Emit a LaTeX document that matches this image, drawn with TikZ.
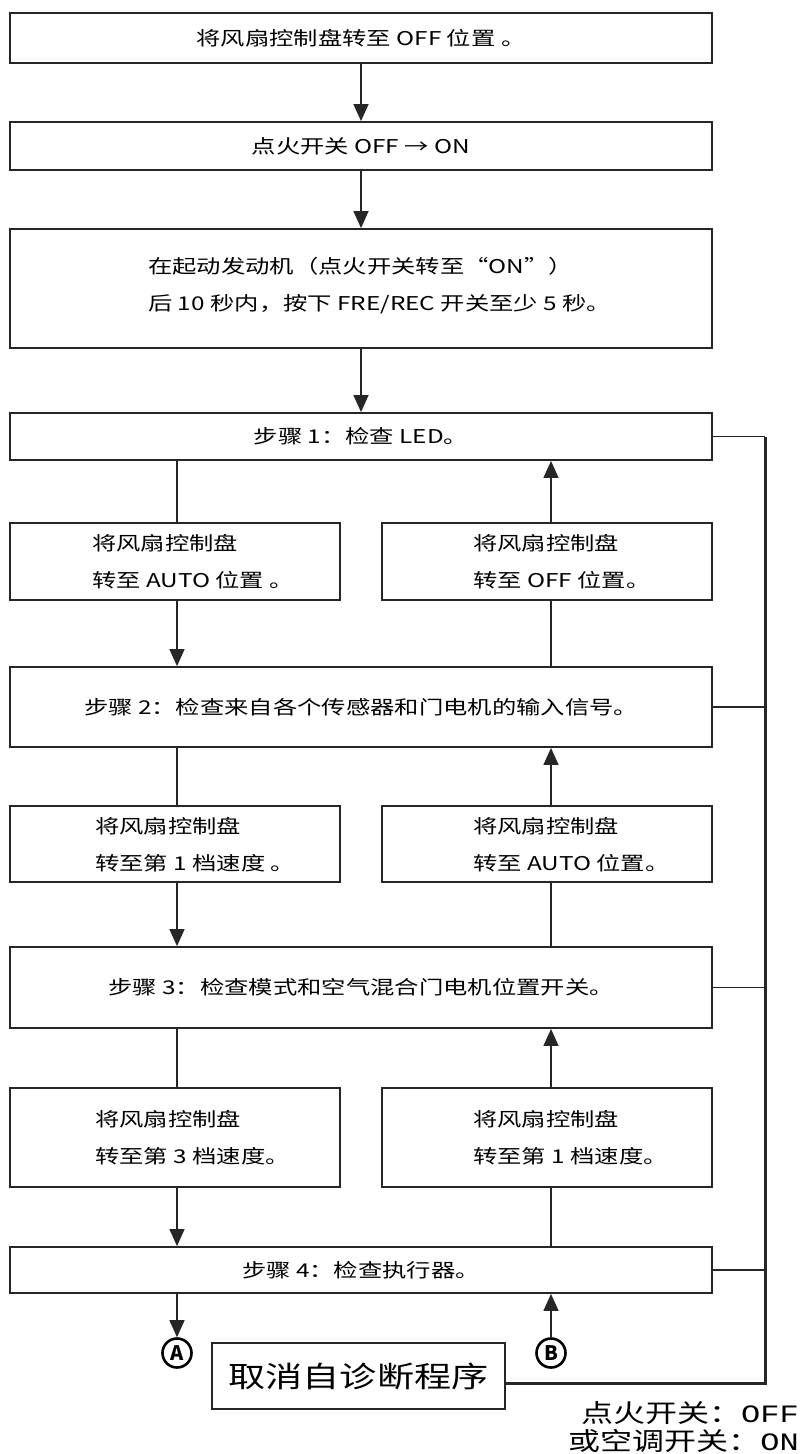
\documentclass[tikz,border=0pt]{standalone}
\usepackage{fontspec}
\usepackage{graphicx}
\setmainfont{Noto Sans CJK SC}
\newfontfamily\monofnt{Liberation Mono}
\usetikzlibrary{arrows.meta}
\newcommand\sx[1]{\scalebox{1.28}[1]{#1}}
\begin{document}
\begin{tikzpicture}[x=1pt,y=-1pt,
  box/.style={draw=black!85, line width=1.8pt, inner sep=0pt, font=\fontsize{19}{19}\selectfont},
  conn/.style={line width=1.4pt, draw=black!85},
  arr/.style={conn, -{Triangle[length=17pt,width=15pt]}},
  txt/.style={inner sep=0pt, font=\fontsize{19}{19}\selectfont, anchor=west},
  circ/.style={circle, draw=black, line width=2.6pt, minimum size=29pt, inner sep=0pt, font=\fontsize{20}{20}\selectfont\bfseries},
  ]
\useasboundingbox (0,0) rectangle (801,1454);
\coordinate (cl) at (177,0);
\coordinate (cr) at (551,0);
\coordinate (rv) at (765,0);

% top chain
\node[box, minimum width=702pt, minimum height=50pt] (b1) at (361,38) {\sx{将风扇控制盘转至 OFF 位置 。}};
\node[box, minimum width=702pt, minimum height=48pt] (b2) at (361,146) {\sx{点火开关 OFF → ON}};
\node[box, minimum width=702pt, minimum height=119pt] (b3) at (361,288.5) {};
\node[txt] (b3a) at (148,266) {\sx{在起动发动机（点火开关转至“ON”）}};
\node[txt] (b3b) at (148,304) {\sx{后 10 秒内，按下 FRE/REC 开关至少 5 秒。}};

% steps
\node[box, minimum width=702pt, minimum height=47pt] (s1) at (361,436.5) {\sx{步骤 1：检查 LED。}};
\node[box, minimum width=702pt, minimum height=80pt] (s2) at (361,707) {\sx{步骤 2：检查来自各个传感器和门电机的输入信号。}};
\node[box, minimum width=702pt, minimum height=81pt] (s3) at (361,987.5) {\sx{步骤 3：检查模式和空气混合门电机位置开关。}};
\node[box, minimum width=702pt, minimum height=46pt] (s4) at (361,1270) {\sx{步骤 4：检查执行器。}};

% side boxes
\node[box, minimum width=330pt, minimum height=77pt] (l1) at (175,561.5) {};
\node[box, minimum width=330pt, minimum height=77pt] (r1) at (547,561.5) {};
\node[box, minimum width=330pt, minimum height=76pt] (l2) at (175,844) {};
\node[box, minimum width=330pt, minimum height=76pt] (r2) at (547,844) {};
\node[box, minimum width=330pt, minimum height=99pt] (l3) at (175,1137.5) {};
\node[box, minimum width=330pt, minimum height=99pt] (r3) at (547,1137.5) {};

\node[txt] (l1a) at (92,543) {\sx{将风扇控制盘}};
\node[txt] (l1b) at (92,580) {\sx{转至 AUTO 位置 。}};
\node[txt] (r1a) at (473,543) {\sx{将风扇控制盘}};
\node[txt] (r1b) at (473,580) {\sx{转至 OFF 位置。}};
\node[txt] (l2a) at (95,826) {\sx{将风扇控制盘}};
\node[txt] (l2b) at (95,863) {\sx{转至第 1 档速度 。}};
\node[txt] (r2a) at (473,826) {\sx{将风扇控制盘}};
\node[txt] (r2b) at (473,863) {\sx{转至 AUTO 位置。}};
\node[txt] (l3a) at (95,1119) {\sx{将风扇控制盘}};
\node[txt] (l3b) at (95,1156) {\sx{转至第 3 档速度。}};
\node[txt] (r3a) at (473,1119) {\sx{将风扇控制盘}};
\node[txt] (r3b) at (473,1156) {\sx{转至第 1 档速度。}};

% circles and cancel
\node[circ] (A) at (177,1353) {A};
\node[circ] (B) at (551,1353) {B};
\node[draw=black!85, line width=2.6pt, minimum width=293pt, minimum height=66pt, inner sep=0pt, font=\fontsize{29}{29}\selectfont] (cx) at (358.5,1376) {\sx{取消自诊断程序}};
\node[inner sep=0pt, anchor=east, font=\fontsize{25}{25}\selectfont] (n1) at (799,1413) {\sx{点火开关：{\monofnt OFF}}};
\node[inner sep=0pt, anchor=east, font=\fontsize{25}{25}\selectfont] (n2) at (799,1441) {\sx{或空调开关：{\monofnt ON}}};

% connectors top
\draw[arr] (b1.south) -- (b2.north);
\draw[arr] (b2.south) -- (b3.north);
\draw[arr] (b3.south) -- (s1.north);

% left column
\draw[conn] (s1.south -| cl) -- (l1.north -| cl);
\draw[arr] (l1.south -| cl) -- (s2.north -| cl);
\draw[conn] (s2.south -| cl) -- (l2.north -| cl);
\draw[arr] (l2.south -| cl) -- (s3.north -| cl);
\draw[conn] (s3.south -| cl) -- (l3.north -| cl);
\draw[arr] (l3.south -| cl) -- (s4.north -| cl);
\draw[arr] (s4.south -| cl) -- (A.north);

% right column
\draw[arr] (r1.north -| cr) -- (s1.south -| cr);
\draw[conn] (s2.north -| cr) -- (r1.south -| cr);
\draw[arr] (r2.north -| cr) -- (s2.south -| cr);
\draw[conn] (s3.north -| cr) -- (r2.south -| cr);
\draw[arr] (r3.north -| cr) -- (s3.south -| cr);
\draw[conn] (s4.north -| cr) -- (r3.south -| cr);
\draw[arr] (B.north) -- (s4.south -| cr);

% right loop
\draw[conn] (s1.east) -- (s1.east -| rv);
\draw[conn] (s2.east) -- (s2.east -| rv);
\draw[conn] (s3.east) -- (s3.east -| rv);
\draw[conn] (s4.east) -- (s4.east -| rv);
\draw[line width=3pt, draw=black!85] (s1.east -| rv) -- ([yshift=-7pt]cx.east -| rv) -- ([yshift=-7pt]cx.east);
\end{tikzpicture}
\end{document}
